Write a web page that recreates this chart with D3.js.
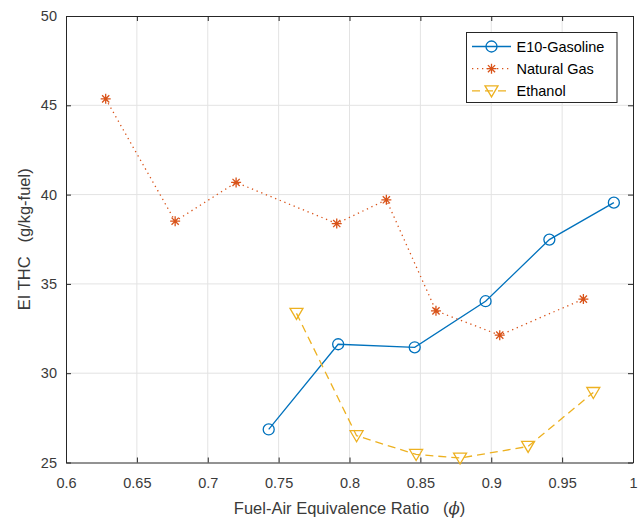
<!DOCTYPE html>
<meta charset="utf-8">
<script src="https://d3js.org/d3.v7.min.js"></script>
<style>
  body { margin: 0; background: #fff; }
  text { font-family: "Liberation Sans", Arial, sans-serif; }
</style>
<div id="chart"></div>
<script>
// data
const gasolineX = [0.743, 0.792, 0.846, 0.896, 0.941, 0.9865];
const gasolineY = [26.85, 31.62, 31.45, 34.03, 37.48, 39.55];

const gasX = [0.628, 0.677, 0.720, 0.791, 0.826, 0.861, 0.906, 0.965];
const gasY = [45.36, 38.51, 40.68, 38.38, 39.71, 33.49, 32.13, 34.15];

const ethanolX = [0.7626, 0.805, 0.847, 0.878, 0.926, 0.972];
const ethanolY = [33.35, 26.5, 25.45, 25.25, 25.9, 28.92];

const xTicks = [0.6, 0.65, 0.7, 0.75, 0.8, 0.85, 0.9, 0.95, 1];
const yTicks = [25, 30, 35, 40, 45, 50];

const seriesNames = ["E10-Gasoline", "Natural Gas", "Ethanol"];

const W = 638, H = 519;
const margin = {top: 16, right: 5, bottom: 56.5, left: 66};
const width = W - margin.left - margin.right,
      height = H - margin.top - margin.bottom;

const svg = d3.select("#chart").append("svg")
    .attr("width", W).attr("height", H);
const g = svg.append("g")
    .attr("transform", `translate(${margin.left},${margin.top})`);

const x = d3.scaleLinear().domain([0.6, 1]).range([0, width]);
const y = d3.scaleLinear().domain([25, 50]).range([height, 0]);

const axisColor = "#262626";

// grid
g.append("g").selectAll("line").data(xTicks.slice(1, -1)).join("line")
    .attr("x1", d => x(d)).attr("x2", d => x(d))
    .attr("y1", 0).attr("y2", height)
    .attr("stroke", "#e3e3e3").attr("stroke-width", 1);
g.append("g").selectAll("line").data(yTicks.slice(1, -1)).join("line")
    .attr("y1", d => y(d)).attr("y2", d => y(d))
    .attr("x1", 0).attr("x2", width)
    .attr("stroke", "#e3e3e3").attr("stroke-width", 1);

// axes (ticks inward)
function styleAxis(sel) {
  sel.select(".domain").attr("stroke", axisColor);
  sel.selectAll(".tick line").attr("stroke", axisColor);
  sel.selectAll(".tick text").attr("fill", "#3a3a3a").attr("font-size", 14.5)
     .attr("font-family", "'Liberation Sans', Arial, sans-serif");
}
const xAxis = g.append("g").attr("transform", `translate(0,${height})`)
    .call(d3.axisBottom(x).tickValues(xTicks).tickFormat(d3.format("")).tickSizeInner(-5).tickSizeOuter(0).tickPadding(13))
    .call(styleAxis);
xAxis.selectAll(".tick text").attr("dy", "0.88em");
g.append("g")
    .call(d3.axisTop(x).tickValues(xTicks).tickFormat("").tickSizeInner(-5).tickSizeOuter(0))
    .call(styleAxis);
g.append("g")
    .call(d3.axisLeft(y).tickValues(yTicks).tickSizeInner(-5).tickSizeOuter(0).tickPadding(9))
    .call(styleAxis);
g.append("g").attr("transform", `translate(${width},0)`)
    .call(d3.axisRight(y).tickValues(yTicks).tickFormat("").tickSizeInner(-5).tickSizeOuter(0))
    .call(styleAxis);

// labels
const xl = svg.append("text")
    .attr("x", margin.left + width / 2).attr("y", 514)
    .attr("text-anchor", "middle").attr("font-size", 16.5).attr("fill", "#3a3a3a")
    .style("white-space", "pre");
xl.append("tspan").text("Fuel-Air Equivalence Ratio   (");
xl.append("tspan").attr("font-style", "italic").attr("font-family", "'DejaVu Serif', serif").text("ϕ");
xl.append("tspan").text(")");

svg.append("text")
    .attr("transform", `translate(30,${margin.top + height / 2}) rotate(-90)`)
    .attr("text-anchor", "middle").attr("font-size", 16.5).attr("fill", "#3a3a3a")
    .style("white-space", "pre")
    .text("EI THC   (g/kg-fuel)");

const colors = ["#0072BD", "#D95319", "#EDB120"];
const line = d3.line().x(d => x(d[0])).y(d => y(d[1]));

const gasoline = gasolineX.map((v, i) => [v, gasolineY[i]]);
const gas = gasX.map((v, i) => [v, gasY[i]]);
const ethanol = ethanolX.map((v, i) => [v, ethanolY[i]]);

// markers
function circleMark(sel, c) {
  sel.append("circle").attr("r", 5.5).attr("fill", "none")
     .attr("stroke", c).attr("stroke-width", 1.3);
}
function starMark(sel, c) {
  const r = 5;
  const d = `M${-r},0L${r},0M0,${-r}L0,${r}M${-r*0.72},${-r*0.72}L${r*0.72},${r*0.72}M${-r*0.72},${r*0.72}L${r*0.72},${-r*0.72}`;
  sel.append("path").attr("d", d).attr("stroke", c).attr("stroke-width", 1.3).attr("fill", "none");
}
function triMark(sel, c) {
  sel.append("path").attr("d", "M-6.5,-5L6.5,-5L0,6Z").attr("fill", "none")
     .attr("stroke", c).attr("stroke-width", 1.3);
}

const series = [
  {data: gasoline, dash: null, mark: circleMark},
  {data: gas, dash: "1.3,3.7", mark: starMark},
  {data: ethanol, dash: "8,5", mark: triMark}
];

series.forEach((s, i) => {
  g.append("path").datum(s.data).attr("d", line)
    .attr("fill", "none").attr("stroke", colors[i]).attr("stroke-width", 1.3)
    .attr("stroke-dasharray", s.dash);
  g.append("g").selectAll("g").data(s.data).join("g")
    .attr("transform", d => `translate(${x(d[0])},${y(d[1])})`)
    .each(function() { s.mark(d3.select(this), colors[i]); });
});

// legend
const lg = svg.append("g").attr("transform", "translate(466.5,32.5)");
lg.append("rect").attr("width", 150.5).attr("height", 70).attr("fill", "#fff")
  .attr("stroke", axisColor).attr("stroke-width", 1);
seriesNames.forEach((name, i) => {
  const yy = 14 + i * 22.2;
  lg.append("line").attr("x1", 5.5).attr("x2", 44.5).attr("y1", yy).attr("y2", yy)
    .attr("stroke", colors[i]).attr("stroke-width", 1.3)
    .attr("stroke-dasharray", series[i].dash);
  const m = lg.append("g").attr("transform", `translate(25,${yy})`);
  series[i].mark(m, colors[i]);
  lg.append("text").attr("x", 50).attr("y", yy).attr("dy", "0.35em")
    .attr("font-size", 14.5).attr("fill", "#000").text(name);
});
</script>
